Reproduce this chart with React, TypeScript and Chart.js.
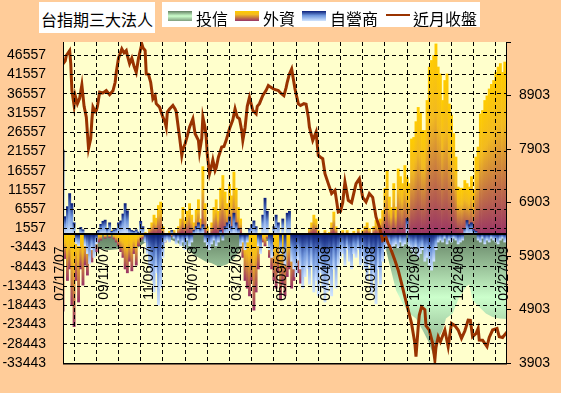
import { useEffect, useRef } from 'react';
import { Chart, registerables } from 'chart.js';
Chart.register(...registerables);

// x tick labels, one every 40 trading days (day index 0..400)
const dateLabels = ['07/17/07', '09/11/07', '11/06/07', '01/07/08', '03/12/08', '05/09/08', '07/04/08', '09/01/08', '10/29/08', '12/24/08', '02/27/09'];
const leftTickValues = [46557, 41557, 36557, 31557, 26557, 21557, 16557, 11557, 6557, 1557, -3443, -8443, -13443, -18443, -23443, -28443, -33443];
const rightTickValues = [3903, 4903, 5903, 6903, 7903, 8903, 9903];

// bars: one value every 2 trading days
const BAR_STEP = 2;
const foreignValues = [
  -20000, -6300, -12000, -9000, -18400, -24000, -12000, -17600, -9000, -13200,
  -8000, -10600, -5500, -7200, -3700, -4500, -2000, -1500, 800, -1000,
  500, -800, 1000, -1200, -2000, -3000, -4500, -6000, -9000, -10000,
  -7000, -9500, -5000, -8000, -3000, -1500, -1000, 500, -800, 1500,
  3000, 5000, 4200, 7500, 8400, 2000, -2000, -1000, 800, -500,
  1000, -1500, 2000, 4000, 7000, 3600, 6000, 8000, 5000, 3000,
  6500, 9000, 4000, 17600, 8000, 2000, -1000, 3000, 7000, 9000,
  6000, 12000, 15300, 11000, 8000, 13000, 10000, 16200, 12000, 7000,
  4000, -6000, -12000, -14000, -16000, -12000, -19700, -15000, -9000, -4000,
  -2000, -3000, -1000, -6000, -9000, -12000, -14000, -10000, -17000, -13000,
  -16000, -11000, -9000, -14000, -12000, -8000, -10000, -12700, -9000, -5000,
  -2000, 1500, 3000, 5000, 4000, 1000, -1000, -500, 1000, -1000,
  500, 3000, 5800, 2000, -1000, -2000, 1000, -1500, 1000, -500,
  -2000, 800, -1000, 1500, -500, 1000, 2000, 3000, 1500, -1000,
  2000, 3600, 2500, 4000, 6200, 12000, 16600, 9700, 7000, 13200,
  7100, 17000, 15000, 13200, 17900, 14800, 13200, 24800, 25200, 29300,
  33000, 31500, 27000, 27000, 34800, 43500, 45200, 46500, 49500, 43500,
  41700, 34800, 40000, 41700, 33900, 31000, 26200, 20100, 12300, 12000,
  12000, 14000, 13200, 12300, 15000, 11400, 20100, 22700, 31300, 32200,
  34800, 36000, 37800, 39000, 40000, 42100, 43500, 44400, 42100, 44800,
  42000
];
const dealerValues = [
  21900, 4600, 7200, 10600, 8000, 3000, -2400, -3000, 1800, 1200,
  -3000, -5000, -7600, -4000, -6000, -2500, 1000, 2600, 3400, 3700,
  1500, 3000, 800, 1200, 1500, 3000, 3500, 5300, 8000, 6100,
  1500, 1000, 800, 1200, 600, 3400, 2000, -2000, -5000, -8500,
  -12000, -15000, -10000, -18400, -14000, -6000, -2000, -1500, -2000, 1000,
  -1000, -2500, -1500, -3000, -2000, -4000, -1500, -3000, -2000, 1000,
  2000, 3000, 1500, 2500, -2000, -3000, -4000, -2500, -1500, -3000,
  -2000, 1000, -1500, 2000, 3000, 4500, 2000, 5500, 3000, 1500,
  -3000, -2000, -4000, -2000, 1500, 2500, 3500, 2000, -3000, -5000,
  5000, 9400, 6000, -4000, -6000, 2000, 5000, 3000, -5000, 4000,
  -8000, 5500, 6000, -7000, -9000, -11000, -6700, -9000, -14000, -11000,
  -9000, -13000, -8000, -15000, -12000, -16000, -10000, -14000, -17600, -15000,
  -12000, -16000, -9000, -14000, -8000, -6000, -5000, -8000, -4000, -7000,
  -9000, -5000, -6000, -4000, -8000, -6000, -9000, -12000, -8000, -15400,
  -11000, -18000, -9000, -13000, -7000, -4000, -3000, -2500, -4000, -3000,
  -2500, -3500, -2000, -3000, -2500, 4100, -3000, -4000, -5000, -3500,
  -6000, -5000, -4000, -7000, -6000, -8000, -9300, -7000, -4000, -2000,
  -1500, -2000, -1000, -2500, -1500, -2000, -1000, -1500, -2500, -2000,
  -1500, 1500, 3600, 2500, 3000, 1200, 800, -1500, -2000, -1000,
  -2500, -1500, -2000, -1000, -1500, -2000, -2500, -1500, -1000, -2000,
  -1500
];

// 投信 area, read at these trading days
const trustDays = [
  0, 6, 15, 22, 26, 33, 42, 51, 60, 67,
  72, 78, 87, 96, 102, 110, 119, 128, 134, 141,
  148, 155, 159, 168, 177, 192, 204, 213, 231, 249,
  267, 276, 285, 291, 294, 300, 306, 312, 318, 324,
  330, 335, 339, 342, 345, 351, 357, 363, 366, 369,
  375, 381, 387, 393, 400
];
const trustValues = [
  -500, -1500, -1000, -2000, -3300, -3800, -4100, -3800, -4000, -3600,
  -2500, -1500, -1000, -1200, -2000, -3500, -5500, -7000, -7500, -8500,
  -7800, -6000, -4000, -2500, -2000, -1500, -1000, -1500, -1500, -2000,
  -2400, -2000, -3000, -4000, -7600, -14500, -18000, -20600, -21900, -24900,
  -28300, -32700, -26600, -24900, -21900, -20600, -16300, -13700, -13000, -17100,
  -18900, -20600, -21500, -21900, -22000
];

// 近月收盤 line, read at these trading days
const closeDays = [
  0, 2, 3, 6, 7, 8, 10, 11, 13, 15,
  17, 19, 21, 22, 23, 25, 26, 27, 29, 30,
  31, 33, 36, 39, 42, 45, 47, 48, 50, 53,
  55, 57, 58, 60, 62, 64, 66, 68, 71, 72,
  74, 75, 77, 79, 81, 83, 84, 87, 90, 92,
  93, 94, 96, 99, 101, 102, 105, 107, 108, 110,
  112, 114, 117, 119, 122, 123, 125, 126, 128, 129,
  130, 132, 134, 135, 137, 138, 140, 143, 145, 147,
  150, 153, 155, 157, 159, 161, 162, 164, 165, 166,
  168, 171, 174, 175, 177, 180, 183, 185, 187, 190,
  194, 196, 199, 201, 202, 204, 206, 208, 209, 212,
  214, 217, 219, 221, 222, 225, 228, 230, 232, 234,
  236, 239, 242, 245, 248, 250, 252, 254, 257, 260,
  264, 267, 270, 273, 276, 279, 282, 285, 288, 291,
  293, 295, 299, 302, 305, 308, 311, 314, 317, 318,
  320, 321, 323, 326, 327, 330, 333, 335, 336, 338,
  340, 344, 347, 350, 353, 356, 359, 362, 365, 367,
  369, 372, 374, 375, 378, 382, 384, 387, 391, 393,
  396, 400
];
const closeValues = [
  9494, 9550, 9650, 9743, 9500, 9000, 8716, 8900, 8750, 8850,
  9100, 8700, 8498, 8200, 7914, 8100, 8436, 8685, 8600, 8623,
  8700, 8965, 8950, 8996, 8920, 8990, 9150, 9337, 9600, 9774,
  9700, 9743, 9650, 9500, 9600, 9450, 9337, 9600, 9866, 9800,
  9743, 9306, 9300, 9150, 8840, 8900, 8750, 8685, 8498, 8400,
  8312, 8592, 8650, 8716, 8650, 8600, 8125, 7784, 7900, 8002,
  8150, 8312, 8468, 8188, 8064, 7846, 8100, 8498, 8300, 8125,
  7800, 7442, 7600, 7700, 7500, 7550, 7750, 7940, 7950, 8064,
  8281, 8450, 8654, 8500, 8468, 8250, 8064, 8300, 8498, 8700,
  8871, 8623, 8560, 8700, 8750, 8902, 9000, 9090, 9060, 9020,
  8996, 8950, 8900, 9050, 9150, 9306, 9400, 9150, 9027, 8747,
  8716, 8750, 8740, 8498, 8312, 8064, 8219, 7784, 7750, 7722,
  7442, 7256, 7070, 7130, 6726, 6740, 6900, 7287, 6944, 6900,
  7256, 7349, 7000, 6913, 7070, 7000, 6633, 6446, 6198, 6250,
  6136, 6050, 5825, 5638, 5390, 5140, 4892, 4643, 4270, 4020,
  4580, 4800, 4953, 4900, 4600, 4519, 4270, 3959, 4200, 4394,
  4300, 4519, 4208, 4643, 4600, 4519, 4363, 4500, 4705, 4700,
  4394, 4450, 4550, 4332, 4330, 4208, 4380, 4519, 4550, 4394,
  4380, 4485
];

const FONT = '"Liberation Sans", Arial, sans-serif';
const CJK = '"Noto Sans CJK TC", "Noto Sans CJK SC", sans-serif';

type Stop = [number, string];
const foreignStops: Stop[] = [[0, '#FFCC00'], [0.35, '#F2BA20'], [1, '#993366']];
const dealerStops: Stop[] = [[0, '#0A1E78'], [0.45, '#6F96DC'], [1, '#D0E4FF']];
const trustStops: Stop[] = [[0, '#627F62'], [0.5, '#CCFFCC'], [1, '#7E9E7E']];

function barFill(stops: Stop[]) {
  return (c: any) => {
    const ch = c.chart;
    if (!ch.chartArea || c.type !== 'data' || !c.parsed) return stops[0][1];
    const ys = ch.scales.y;
    const p0 = ys.getPixelForValue(0);
    const p1 = ys.getPixelForValue(c.parsed.y);
    const top = Math.min(p0, p1);
    const bot = Math.max(p0, p1);
    if (bot - top < 0.5) return stops[0][1];
    const g = ch.ctx.createLinearGradient(0, top, 0, bot);
    stops.forEach(([o, col]) => g.addColorStop(o, col));
    return g;
  };
}

function trustFill(c: any) {
  const ch = c.chart;
  if (!ch.chartArea) return '#9c9';
  const ys = ch.scales.y;
  const p0 = ys.getPixelForValue(0);
  const p1 = ys.getPixelForValue(Math.min(...trustValues));
  const g = ch.ctx.createLinearGradient(0, p0, 0, p1);
  trustStops.forEach(([o, col]) => g.addColorStop(o, col));
  return g;
}

const cssGrad = (stops: Stop[]) =>
  `linear-gradient(to bottom, ${stops.map(([o, c]) => `${c} ${o * 100}%`).join(', ')})`;

const bgFrame = {
  id: 'bgFrame',
  beforeDraw(chart: any) {
    const { ctx, chartArea } = chart;
    const { left, top, right, bottom } = chartArea;
    ctx.save();
    ctx.fillStyle = '#FFFFCC';
    ctx.fillRect(left, top, right - left, bottom - top);
    ctx.restore();
  },
  afterDraw(chart: any) {
    const { ctx, chartArea } = chart;
    const { left, top, right, bottom } = chartArea;
    const y0 = Math.round(chart.scales.y.getPixelForValue(0));
    ctx.save();
    ctx.fillStyle = '#000';
    ctx.fillRect(left, top, 1, bottom - top + 1);
    ctx.fillRect(right - 1, top, 1, bottom - top + 1);
    ctx.fillRect(left, bottom, right - left, 1.5);
    ctx.fillRect(left, y0 - 1, right - left, 2);
    ctx.restore();
  },
};

export default function App() {
  const ref = useRef<HTMLCanvasElement | null>(null);

  useEffect(() => {
    const canvas = ref.current;
    if (!canvas) return;
    const chart = new Chart(canvas, {
      type: 'bar',
      data: {
        datasets: [
          {
            type: 'line',
            label: '近月收盤',
            data: closeDays.map((d, i) => ({ x: d, y: closeValues[i] })),
            yAxisID: 'y1',
            borderColor: '#993300',
            borderWidth: 3,
            pointRadius: 0,
            fill: false,
            order: 0,
          },
          {
            type: 'bar',
            label: '自營商',
            data: dealerValues.map((v, i) => ({ x: i * BAR_STEP, y: v })),
            yAxisID: 'y',
            backgroundColor: barFill(dealerStops),
            borderWidth: 0,
            grouped: false,
            barPercentage: 1,
            categoryPercentage: 1,
            order: 1,
          },
          {
            type: 'bar',
            label: '外資',
            data: foreignValues.map((v, i) => ({ x: i * BAR_STEP, y: v })),
            yAxisID: 'y',
            backgroundColor: barFill(foreignStops),
            borderWidth: 0,
            grouped: false,
            barPercentage: 1,
            categoryPercentage: 1,
            order: 2,
          },
          {
            type: 'line',
            label: '投信',
            data: trustDays.map((d, i) => ({ x: d, y: trustValues[i] })),
            yAxisID: 'y',
            borderWidth: 0,
            borderColor: 'rgba(0,0,0,0)',
            backgroundColor: trustFill,
            pointRadius: 0,
            fill: 'origin',
            order: 3,
          },
        ] as any,
      },
      options: {
        animation: false,
        responsive: false,
        devicePixelRatio: 1,
        events: [],
        layout: { padding: { top: 42, bottom: 30, left: 0, right: 0 } },
        plugins: { legend: { display: false }, tooltip: { enabled: false }, title: { display: false } },
        scales: {
          x: {
            type: 'linear',
            position: { y: 0 } as any,
            min: 0,
            max: 400,
            offset: false,
            ticks: {
              stepSize: 20,
              autoSkip: false,
              maxRotation: 90,
              minRotation: 90,
              padding: 12,
              labelOffset: -3,
              color: '#000',
              font: { family: FONT, size: 14 },
              z: 1,
              callback: (v: any) => (Number(v) % 40 === 0 ? dateLabels[Number(v) / 40] : ''),
            },
            grid: { color: '#000', lineWidth: 1, drawTicks: false, z: 1 },
            border: { display: false, dash: [4, 3] },
          } as any,
          y: {
            type: 'linear',
            position: 'left',
            min: -33443,
            max: 50000,
            afterBuildTicks: (s: any) => {
              s.ticks = leftTickValues.map((v) => ({ value: v }));
            },
            afterFit: (s: any) => {
              s.width = 63;
            },
            ticks: {
              padding: 17,
              color: '#000',
              font: { family: FONT, size: 14 },
              callback: (v: any) => String(v),
            },
            grid: { color: '#000', lineWidth: 1, drawTicks: false, z: 1 },
            border: { display: false, dash: [4, 3] },
          } as any,
          y1: {
            type: 'linear',
            position: 'right',
            min: 3903,
            max: 9903,
            afterBuildTicks: (s: any) => {
              s.ticks = rightTickValues.map((v) => ({ value: v }));
            },
            afterFit: (s: any) => {
              s.width = 54;
            },
            ticks: {
              padding: 8,
              color: '#000',
              font: { family: FONT, size: 14 },
              callback: (v: any) => (Number(v) === 9903 ? '' : String(v)),
            },
            grid: { drawOnChartArea: false, drawTicks: true, tickLength: 4, color: '#000' },
            border: { display: false },
          } as any,
        },
      },
      plugins: [bgFrame],
    });
    return () => chart.destroy();
  }, []);

  const text = { position: 'absolute' as const, font: `16px ${CJK}`, lineHeight: '16px', whiteSpace: 'nowrap' as const, color: '#000' };
  const sw = { position: 'absolute' as const, top: 9, width: 24, height: 10 };

  return (
    <div style={{ position: 'fixed', left: 0, top: 0, width: 561, height: 393, background: '#FFCC99', overflow: 'hidden' }}>
      <canvas ref={ref} width={561} height={393} style={{ position: 'absolute', left: 0, top: 0, width: 561, height: 393 }} />
      <div style={{ position: 'absolute', left: 39, top: 2, width: 116, height: 31, background: '#FFFFFF' }}>
        <span style={{ ...text, left: 2, top: 9 }}>台指期三大法人</span>
      </div>
      <div style={{ position: 'absolute', left: 162, top: 2, width: 318, height: 25, background: '#FFFFFF' }}>
        <div style={{ ...sw, left: 6, background: cssGrad(trustStops) }} />
        <span style={{ ...text, left: 34, top: 8 }}>投信</span>
        <div style={{ ...sw, left: 73, background: cssGrad(foreignStops) }} />
        <span style={{ ...text, left: 101, top: 8 }}>外資</span>
        <div style={{ ...sw, left: 140, background: cssGrad(dealerStops) }} />
        <span style={{ ...text, left: 168, top: 8 }}>自營商</span>
        <div style={{ position: 'absolute', left: 224, top: 12, width: 24, height: 2, background: '#993300' }} />
        <span style={{ ...text, left: 251, top: 8 }}>近月收盤</span>
      </div>
    </div>
  );
}
